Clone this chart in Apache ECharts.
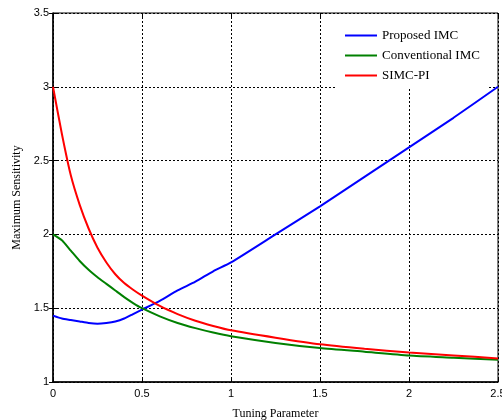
<!DOCTYPE html>
<html>
<head>
<meta charset="utf-8">
<title>Maximum Sensitivity vs Tuning Parameter</title>
<script src="https://cdn.jsdelivr.net/npm/echarts@6/dist/echarts.min.js"></script>
<style>
  html, body { margin: 0; padding: 0; background: #fff; }
  #chart { width: 502px; height: 420px; }
</style>
</head>
<body>
<div id="chart"></div>
<script>
	// tuning parameter (x) and the three sensitivity curves
	const tuning = [0, 0.05, 0.1, 0.15, 0.2, 0.25, 0.3, 0.35, 0.4, 0.45, 0.5, 0.6, 0.7, 0.8, 0.9, 1.0, 1.25, 1.5, 1.75, 2.0, 2.25, 2.5];
	const proposedIMC =     [1.45, 1.43, 1.42, 1.41, 1.40, 1.395, 1.40, 1.41, 1.43, 1.46, 1.49, 1.55, 1.62, 1.68, 1.75, 1.81, 2.00, 2.19, 2.39, 2.59, 2.79, 3.00];
	const conventionalIMC = [2.00, 1.96, 1.89, 1.82, 1.76, 1.71, 1.665, 1.62, 1.575, 1.535, 1.50, 1.445, 1.40, 1.365, 1.335, 1.31, 1.265, 1.23, 1.205, 1.18, 1.165, 1.15];
	const simcPI =          [3.00, 2.68, 2.40, 2.20, 2.04, 1.91, 1.81, 1.73, 1.67, 1.625, 1.585, 1.515, 1.46, 1.415, 1.38, 1.35, 1.30, 1.255, 1.225, 1.20, 1.18, 1.16];
	const seriesNames = ['Proposed IMC', 'Conventional IMC', 'SIMC-PI'];
	const seriesColors = ['#0000ff', '#008000', '#ff0000'];

	const pairs = arr => tuning.map((x, i) => [x, arr[i]]);

	const chart = echarts.init(document.getElementById('chart'));

	const labelFont = { fontFamily: 'Liberation Sans', fontSize: 11, color: '#000' };
	const gridDots = { show: true, lineStyle: { type: [2, 2], color: '#000', width: 1 } };

	const option = {
		animation: false,
		grid: {
			left: 53, right: 4, top: 13, bottom: 38,
			outerBoundsMode: 'none',
			show: true, borderColor: '#000', borderWidth: 1
		},
		legend: {
			data: seriesNames,
			orient: 'vertical',
			left: 337, top: 14,
			padding: [15, 8, 6, 8],
			icon: 'rect',
			itemWidth: 32, itemHeight: 2, itemGap: 7,
			backgroundColor: '#fff',
			textStyle: { fontFamily: 'Liberation Serif', fontSize: 13, color: '#000' }
		},
		xAxis: [{
			type: 'value', min: 0, max: 2.5, interval: 0.5,
			name: 'Tuning Parameter', nameLocation: 'middle', nameGap: 26,
			nameTextStyle: { fontFamily: 'Liberation Serif', fontSize: 12, color: '#000' },
			axisLine: { show: true, lineStyle: { color: '#000', width: 1.5 } },
			axisTick: { inside: true, length: 4, lineStyle: { color: '#000' } },
			axisLabel: Object.assign({ margin: 6 }, labelFont),
			splitLine: gridDots
		}, {
			type: 'value', position: 'top', min: 0, max: 2.5, interval: 0.5,
			axisLine: { show: false },
			axisTick: { inside: true, length: 4, lineStyle: { color: '#000' } },
			axisLabel: { show: false }, splitLine: { show: false }
		}],
		yAxis: [{
			type: 'value', min: 1, max: 3.5, interval: 0.5,
			name: 'Maximum Sensitivity', nameLocation: 'middle', nameGap: 25,
			nameTextStyle: { fontFamily: 'Liberation Serif', fontSize: 12, color: '#000' },
			axisLine: { show: true, lineStyle: { color: '#000', width: 1.5 } },
			axisTick: { inside: true, length: 4, lineStyle: { color: '#000' } },
			axisLabel: Object.assign({ margin: 4 }, labelFont),
			splitLine: gridDots
		}, {
			type: 'value', position: 'right', min: 1, max: 3.5, interval: 0.5,
			axisLine: { show: false },
			axisTick: { inside: true, length: 4, lineStyle: { color: '#000' } },
			axisLabel: { show: false }, splitLine: { show: false }
		}],
		series: [proposedIMC, conventionalIMC, simcPI].map((arr, i) => ({
			name: seriesNames[i],
			type: 'line',
			data: pairs(arr),
			smooth: 0.2,
			symbol: 'none',
			lineStyle: { color: seriesColors[i], width: 2 },
			itemStyle: { color: seriesColors[i] }
		}))
	};

	chart.setOption(option);
</script>
</body>
</html>
